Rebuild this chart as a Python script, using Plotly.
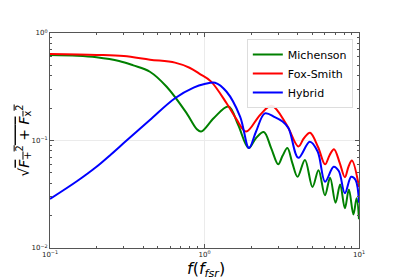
import plotly.graph_objects as go

# Michenson (green)
f_mich = [0.1, 0.15, 0.2, 0.28, 0.346, 0.443, 0.569, 0.767, 0.89, 0.95, 1.15, 1.43, 1.65, 1.93,
          2.15, 2.42, 2.7, 3.0, 3.2, 3.44, 3.7, 4.0, 4.47, 5.0, 5.47, 6.02, 6.5, 7.05, 7.55,
          8.1, 8.6, 9.2, 9.65, 10.0]
v_mich = [0.625, 0.615, 0.595, 0.55, 0.5, 0.436, 0.316, 0.179, 0.128, 0.121, 0.162, 0.207, 0.14, 0.085,
          0.105, 0.12, 0.085, 0.06, 0.072, 0.085, 0.062, 0.046, 0.066, 0.037, 0.053, 0.031, 0.045, 0.0264, 0.039,
          0.0234, 0.035, 0.0205, 0.029, 0.0185]

# Fox-Smith (red)
f_fox = [0.1, 0.2, 0.3, 0.444, 0.644, 0.8, 0.935, 1.1, 1.39, 1.6, 1.86, 2.29, 2.72, 3.4, 4.05, 4.4, 4.82,
         5.43, 6.03, 6.45, 6.89, 7.5, 8.1, 8.55, 9.0, 10.0]
v_fox = [0.637, 0.625, 0.61, 0.565, 0.53, 0.475, 0.415, 0.355, 0.222, 0.16, 0.121, 0.173, 0.21, 0.14, 0.088, 0.105,
         0.118, 0.087, 0.06, 0.073, 0.083, 0.062, 0.0455, 0.057, 0.065, 0.037]

# Hybrid (blue)
f_hyb = [0.1, 0.15, 0.2, 0.25, 0.313, 0.443, 0.644, 0.85, 1.0, 1.17, 1.39, 1.7, 1.94, 2.15, 2.46, 2.85,
         3.2, 3.5, 4.05, 4.8, 5.4, 6.03, 6.85, 7.4, 8.1, 8.9, 9.5, 10.0]
v_hyb = [0.0286, 0.042, 0.057, 0.075, 0.1, 0.155, 0.247, 0.31, 0.335, 0.345, 0.284, 0.167, 0.085, 0.12, 0.179, 0.165,
         0.15, 0.13, 0.069, 0.0975, 0.079, 0.0414, 0.057, 0.052, 0.0323, 0.046, 0.043, 0.0264]

series_names = ["Michenson", "Fox-Smith", "Hybrid"]
series_colors = ["#008000", "#ff0000", "#0000ff"]

x_tickvals = [0.1, 1, 10]
x_ticktext = ["10<sup>−1</sup>", "10<sup>0</sup>", "10<sup>1</sup>"]
y_tickvals = [0.01, 0.1, 1]
y_ticktext = ["10<sup>−2</sup>", "10<sup>−1</sup>", "10<sup>0</sup>"]

x_title = "<i>f</i>(<i>f</i><sub><i>fsr</i></sub>)"
y_title = ("√<span style='text-decoration:overline'><i>F</i><sub>+</sub><sup>2</sup>"
           " + <i>F</i><sub>x</sub><sup>2</sup></span>")

fig = go.Figure()
for fx, vy, name, col in zip([f_mich, f_fox, f_hyb], [v_mich, v_fox, v_hyb], series_names, series_colors):
    fig.add_trace(go.Scatter(x=fx, y=vy, mode="lines", name=name,
                             line=dict(color=col, width=2, shape="spline", smoothing=1.0)))

def minor_vals(lo, hi):
    vals = []
    d = lo
    while d < hi:
        for k in range(2, 10):
            vals.append(k * d)
        d *= 10
    return vals

axis_common = dict(
    type="log", showline=True, linecolor="#555555", linewidth=1, mirror="allticks",
    ticks="inside", ticklen=4, tickcolor="#555555", tickwidth=1,
    showgrid=True, gridcolor="#ebebeb", gridwidth=1, zeroline=False, automargin=False,
    tickfont=dict(family="DejaVu Sans", size=7, color="#222222"),
)

fig.update_xaxes(**axis_common, range=[-1, 1], tickmode="array", tickvals=x_tickvals, ticktext=x_ticktext,
                 minor=dict(ticks="inside", ticklen=2, tickcolor="#555555", tickmode="array",
                            tickvals=minor_vals(0.1, 10), showgrid=False))
fig.update_yaxes(**axis_common, range=[-2, 0], tickmode="array", tickvals=y_tickvals, ticktext=y_ticktext,
                 minor=dict(ticks="inside", ticklen=2, tickcolor="#555555", tickmode="array",
                            tickvals=minor_vals(0.01, 1), showgrid=False))

fig.add_annotation(text=x_title, xref="paper", yref="paper", x=0.505, y=-0.04,
                   xanchor="center", yanchor="top", showarrow=False,
                   font=dict(family="DejaVu Sans", size=16, color="#000000"))
fig.add_annotation(text=y_title, xref="paper", yref="paper", x=-0.048, y=0.5,
                   xanchor="right", yanchor="middle", textangle=-90, showarrow=False,
                   font=dict(family="DejaVu Sans", size=14, color="#000000"))

# page body has an 8px default margin, so the figure is sized/offset to compensate
fig.update_layout(
    width=391, height=271,
    margin=dict(l=42, r=40, t=25, b=31),
    paper_bgcolor="white", plot_bgcolor="white",
    font=dict(family="DejaVu Sans", color="#000000"),
    showlegend=True,
    legend=dict(x=0.98, y=0.972, xanchor="right", yanchor="top",
                bgcolor="rgba(255,255,255,0.9)", bordercolor="#dddddd", borderwidth=1,
                font=dict(family="DejaVu Sans", size=11, color="#000000"),
                itemwidth=30, tracegroupgap=0),
)

fig.write_html("out.html")
